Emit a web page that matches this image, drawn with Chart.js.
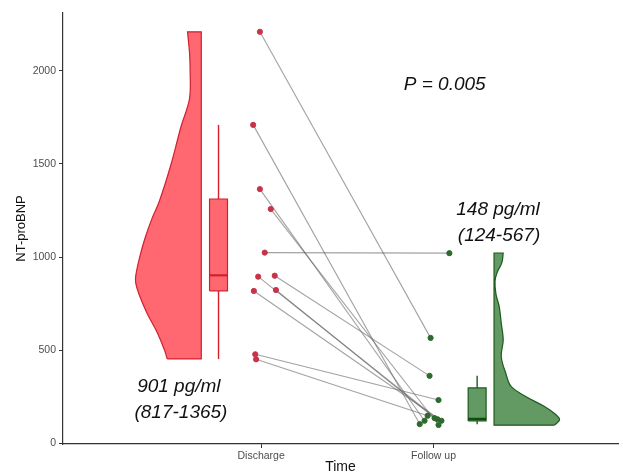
<!DOCTYPE html>
<html>
<head>
<meta charset="utf-8">
<script src="https://cdn.jsdelivr.net/npm/chart.js@4.4.1/dist/chart.umd.min.js"></script>
<style>
    html, body { margin: 0; padding: 0; background: #fff; }
    #wrap { width: 623px; height: 476px; }
</style>
</head>
<body>
<div id="wrap"><canvas id="raincloud"></canvas></div>
<script>
// Categories and tick labels
const categories = ['Discharge', 'Follow up'];
const yTicks = [0, 500, 1000, 1500, 2000];

// Paired patient values (same order in both arrays)
const discharge = [2210, 1710, 1365, 1258, 1024, 895, 900, 818, 823, 478, 451];
const followUp  = [566, 103, 121, 98, 1021, 129, 362, 121, 135, 232, 148];

// Horizontal jitter of each point
const dischargeJitter = [-0.007, -0.046, -0.007, 0.056, 0.021, -0.017, 0.079, -0.042, 0.086, -0.034, -0.029];
const followUpJitter  = [-0.017, -0.080, -0.052, 0.029, 0.092, 0.023, -0.023, 0.046, 0.006, 0.029, -0.034];

// Box stats: min, q1, median, q3, max
const dischargeBox = [452, 819, 902, 1312, 1710];
const followUpBox  = [102, 120, 131, 297, 362];

// Half-violin density (relative width at each level)
const dischargeDensityY = [453, 500, 600, 700, 800, 860, 900, 1000, 1100, 1200, 1300, 1500, 1700, 1850, 2000, 2100, 2210];
const dischargeDensity  = [0.52, 0.56, 0.68, 0.83, 0.95, 1, 1, 0.94, 0.86, 0.76, 0.64, 0.46, 0.31, 0.18, 0.17, 0.18, 0.21];
const followUpDensityY  = [97, 125, 152, 197, 250, 305, 375, 465, 555, 645, 733, 800, 872, 920, 970, 1022];
const followUpDensity   = [0.92, 1, 0.95, 0.77, 0.49, 0.26, 0.18, 0.11, 0.14, 0.11, 0.08, 0.03, 0.015, 0.05, 0.12, 0.14];

// Annotations
const pText = 'P = 0.005';
const dischargeSummary = ['901 pg/ml', '(817-1365)'];
const followUpSummary = ['148 pg/ml', '(124-567)'];

const RED = { fill: 'rgba(255, 98, 108, 0.97)', line: '#d41f2d', point: '#c8334a' };
const GREEN = { fill: 'rgba(94, 150, 94, 0.97)', line: '#1d5a1d', point: '#2d6a2d' };
const VIOLIN_W = 0.38;
const BOX_HW = 0.052;

// Half violin: flat edge at x0, grows toward dir (-1 left, +1 right).
// Corner points are doubled so the spline keeps them sharp.
function violin(levels, dens, x0, dir) {
    const curve = levels.map((y, i) => ({ x: x0 + dir * dens[i] * VIOLIN_W, y: y }));
    const first = curve[0], last = curve[curve.length - 1];
    const top = { x: x0, y: levels[levels.length - 1] };
    const bottom = { x: x0, y: levels[0] };
    return [first].concat(curve, [last, top, top, bottom, bottom, first]);
}

function boxRect(stats, xc) {
    return [
        { x: xc - BOX_HW, y: stats[1] }, { x: xc + BOX_HW, y: stats[1] },
        { x: xc + BOX_HW, y: stats[3] }, { x: xc - BOX_HW, y: stats[3] },
        { x: xc - BOX_HW, y: stats[1] }
    ];
}

function shape(data, col, order, tension) {
    return {
        type: 'line', data: data, fill: 'shape',
        backgroundColor: col.fill, borderColor: col.line, borderWidth: 1.2,
        pointRadius: 0, tension: tension, order: order
    };
}

function segment(data, color, width, order) {
    return {
        type: 'line', data: data, fill: false,
        borderColor: color, borderWidth: width, pointRadius: 0, tension: 0, order: order
    };
}

const datasets = [];

// points on top
datasets.push({
    type: 'scatter',
    data: discharge.map((v, i) => ({ x: 1 + dischargeJitter[i], y: v })),
    backgroundColor: RED.point, borderColor: RED.point, pointRadius: 2.6, order: 0
});
datasets.push({
    type: 'scatter',
    data: followUp.map((v, i) => ({ x: 2 + followUpJitter[i], y: v })),
    backgroundColor: GREEN.point, borderColor: GREEN.point, pointRadius: 2.6, order: 0
});

// paired lines
discharge.forEach((v, i) => {
    datasets.push(segment([
        { x: 1 + dischargeJitter[i], y: v },
        { x: 2 + followUpJitter[i], y: followUp[i] }
    ], 'rgba(100, 100, 100, 0.6)', 1.1, 1));
});

// violins
datasets.push(shape(violin(dischargeDensityY, dischargeDensity, 0.653, -1), RED, 3, 0.35));
datasets.push(shape(violin(followUpDensityY, followUpDensity, 2.351, 1), GREEN, 3, 0.35));

// boxes
[[dischargeBox, 0.753, RED, '#d41f2d'], [followUpBox, 2.253, GREEN, '#0f4a0f']].forEach(b => {
    const s = b[0], xc = b[1], col = b[2];
    datasets.push(shape(boxRect(s, xc), col, 2, 0));
    datasets.push(segment([{ x: xc, y: s[3] }, { x: xc, y: s[4] }], col.line, 1.4, 2));
    datasets.push(segment([{ x: xc, y: s[0] }, { x: xc, y: s[1] }], col.line, 1.4, 2));
    datasets.push(segment([{ x: xc - BOX_HW, y: s[2] }, { x: xc + BOX_HW, y: s[2] }], b[3], 2.2, 1.5));
});

// text annotations placed in data coordinates
const annotationPlugin = {
    id: 'annotations',
    afterDatasetsDraw(chart) {
        const { ctx, scales: { x, y } } = chart;
        ctx.save();
        ctx.fillStyle = '#111';
        ctx.textAlign = 'center';
        ctx.textBaseline = 'middle';
        ctx.font = 'italic 19px "Liberation Sans", Arial, sans-serif';
        ctx.fillText(pText, x.getPixelForValue(2.065), y.getPixelForValue(1924));
        ctx.fillText(dischargeSummary[0], x.getPixelForValue(0.523), y.getPixelForValue(302));
        ctx.fillText(dischargeSummary[1], x.getPixelForValue(0.535), y.getPixelForValue(163));
        ctx.fillText(followUpSummary[0], x.getPixelForValue(2.374), y.getPixelForValue(1252));
        ctx.fillText(followUpSummary[1], x.getPixelForValue(2.380), y.getPixelForValue(1113));
        ctx.restore();
    }
};

const axisColor = '#333';
const tickFont = { family: '"Liberation Sans", Arial, sans-serif', size: 10.5 };

new Chart(document.getElementById('raincloud'), {
    type: 'scatter',
    data: { datasets: datasets },
    plugins: [annotationPlugin],
    options: {
        responsive: true,
        maintainAspectRatio: false,
        animation: false,
        layout: { padding: { top: 13, right: 0, bottom: 0, left: 0 } },
        plugins: { legend: { display: false }, tooltip: { enabled: false } },
        scales: {
            x: {
                type: 'linear',
                min: -0.149,
                max: 3.07,
                afterFit: (scale) => { scale.height = 32; },
                afterBuildTicks: (scale) => { scale.ticks = categories.map((c, i) => ({ value: i + 1 })); },
                ticks: {
                    color: '#4d4d4d', font: tickFont, padding: 2, autoSkip: false, maxRotation: 0,
                    callback: (v) => categories[v - 1]
                },
                grid: { drawOnChartArea: false, drawTicks: true, tickLength: 4, color: axisColor },
                border: { display: true, color: axisColor, width: 1.2 },
                title: {
                    display: true, text: 'Time', color: '#111',
                    font: { family: '"Liberation Sans", Arial, sans-serif', size: 14 },
                    padding: { top: 0, bottom: 0 }
                }
            },
            y: {
                min: -4,
                max: 2311,
                afterFit: (scale) => { scale.width = 63; },
                afterBuildTicks: (scale) => { scale.ticks = yTicks.map(v => ({ value: v })); },
                ticks: { color: '#4d4d4d', font: tickFont, padding: 3, callback: (v) => String(v) },
                grid: { drawOnChartArea: false, drawTicks: true, tickLength: 4, color: axisColor },
                border: { display: true, color: axisColor, width: 1.2 },
                title: {
                    display: true, text: 'NT-proBNP', color: '#111',
                    font: { family: '"Liberation Sans", Arial, sans-serif', size: 13 },
                    padding: { top: 14, bottom: 0 }
                }
            }
        }
    }
});
</script>
</body>
</html>
